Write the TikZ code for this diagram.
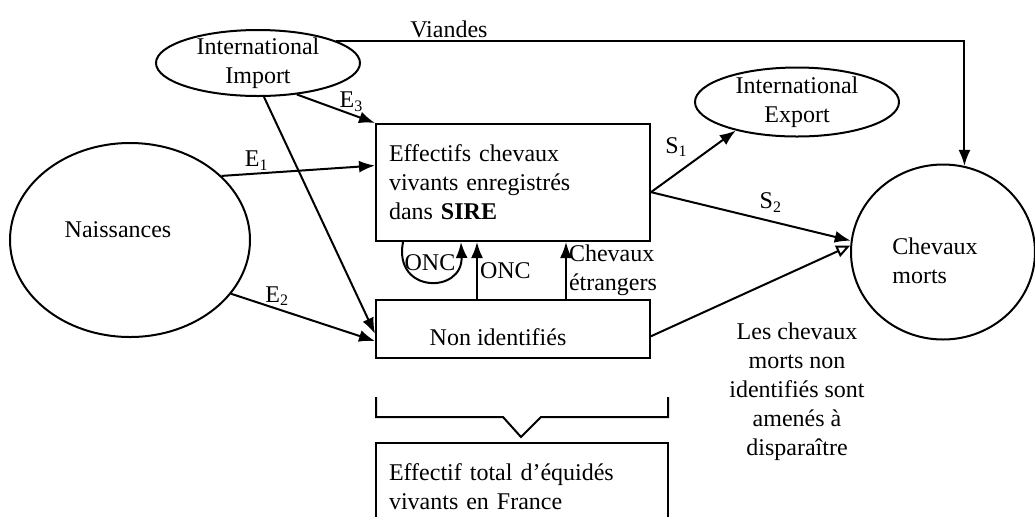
\documentclass[tikz,border=0pt]{standalone}
\usepackage{fontspec}
\setmainfont{Liberation Serif}
\usetikzlibrary{shapes.geometric,arrows.meta}

\begin{document}
\begin{tikzpicture}[x=0.5pt, y=-0.5pt, >={Latex[length=8pt,width=6pt]},
	font=\fontsize{12}{14.5}\selectfont, line width=1pt,
	pool/.style={ellipse, draw, inner sep=0pt},
	stock/.style={rectangle, draw, minimum width=137pt, inner xsep=6.5pt},
	lab/.style={inner sep=1pt}]
	\clip (0,0) rectangle (1035,516);

	\node [pool, minimum width=102pt, minimum height=33pt] (imp) at (258,63) {};
	\node [align=center] (imptext) at (imp) {International\\Import};

	\node [pool, minimum width=102pt, minimum height=34.5pt] (exp) at (797,102) {};
	\node [align=center] (exptext) at (exp) {International\\Export};

	\node [pool, minimum width=120pt, minimum height=97pt] (nai) at (130,240) {};
	\node (naitext) at (118,230) {Naissances};
	\node [pool, minimum width=92pt, minimum height=87.5pt] (mor) at (943,252) {};
	\node [align=left] (mortext) at (935,261) {Chevaux\\morts};

	\node [stock, minimum height=58.5pt, text width=124pt, align=left]
	(sire) at (513,182.5) {Effectifs chevaux\\vivants enregistrés\\dans \textbf{SIRE}};
	\node [stock, minimum height=29pt] (non) at (513,329) {};
	\node (nontext) at (498,337) {Non identifiés};
	\node [stock, minimum width=146pt, minimum height=43.5pt, text width=133pt, align=left]
	(tot) at (522,486.5) {Effectif total d’équidés\\vivants en France};

	\draw (376,397) -- (376,417) -- (503,417) -- (521,437) -- (541,417) -- (668,417) -- (668,397);

	\draw[->] (imp.16) -| node[above, lab, pos=0.09] (via) {Viandes} (mor.76);
	\draw[->] (imp.-39) -- node[above, lab, pos=0.7] (e3) {E\textsubscript{3}} (sire.north west);
	\draw[->] (imp.-80) -- (non.182);
	\draw[->] (nai.35) -- node[above, lab, pos=0.23] (e1) {E\textsubscript{1}} (sire.173);
	\draw[->] (nai.-28) -- node[above, lab, pos=0.32] (e2) {E\textsubscript{2}} (non.185);

	\draw[->] (sire.-4) -- node[above=7pt, lab, pos=0.3] (s1) {S\textsubscript{1}} (exp.205);
	\draw[->] (sire.-4) -- node[above=3pt, lab, pos=0.6] (s2) {S\textsubscript{2}} (mor.173);
	\draw[-{Triangle[open,length=7pt,width=6pt]}] (non.-3) -- (mor.176);

	\draw[->] ([xshift=-55pt]sire.south) .. controls +(-5pt,-26pt) and +(1pt,-26pt)
	.. ([xshift=-26pt]sire.south);
	\node [inner sep=1pt] (onc1) at (430,263) {ONC};
	\draw[->] ([xshift=-18pt]non.north) -- node[right, lab] (onc2) {ONC} ([xshift=-18pt]sire.south);
	\draw[->] ([xshift=26.5pt]non.north) -- node[right, lab, align=left] (etr) {Chevaux\\étrangers}
	([xshift=26.5pt]sire.south);

	\node [align=center] (note) at (797,392)
	{Les chevaux\\morts non\\identifiés sont\\amenés à\\disparaître};
\end{tikzpicture}
\end{document}
